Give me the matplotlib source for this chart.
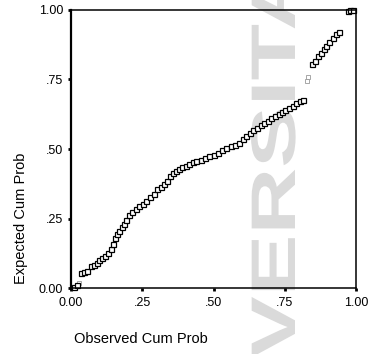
import matplotlib
matplotlib.use("Agg")
import matplotlib.pyplot as plt
from matplotlib.textpath import TextPath
from matplotlib.patches import PathPatch
from matplotlib.font_manager import FontProperties
from matplotlib.transforms import Affine2D, IdentityTransform

plt.rcParams['font.family'] = ['Liberation Sans', 'DejaVu Sans']

# observed vs expected cumulative probability
observed = [0.010, 0.020, 0.035, 0.045, 0.055, 0.070, 0.080, 0.090, 0.100, 0.110,
            0.120, 0.130, 0.140, 0.148, 0.155, 0.162, 0.170, 0.178, 0.186, 0.195,
            0.205, 0.215, 0.228, 0.240, 0.252, 0.265, 0.278, 0.290, 0.302, 0.315,
            0.327, 0.338, 0.348, 0.358, 0.368, 0.378, 0.390, 0.402, 0.415, 0.428,
            0.440, 0.455, 0.470, 0.485, 0.500, 0.515, 0.530, 0.545, 0.560, 0.575,
            0.590, 0.603, 0.615, 0.627, 0.640, 0.652, 0.665, 0.678, 0.690, 0.703,
            0.715, 0.728, 0.740, 0.752, 0.765, 0.778, 0.790, 0.802, 0.812, 0.846,
            0.856, 0.866, 0.876, 0.886, 0.896, 0.906, 0.918, 0.930, 0.940, 0.972,
            0.980, 0.990]
expected = [0.004, 0.012, 0.055, 0.058, 0.062, 0.078, 0.085, 0.092, 0.100, 0.108,
            0.115, 0.125, 0.142, 0.158, 0.180, 0.195, 0.207, 0.220, 0.232, 0.245,
            0.262, 0.272, 0.285, 0.294, 0.302, 0.315, 0.327, 0.340, 0.355, 0.365,
            0.375, 0.385, 0.402, 0.415, 0.420, 0.428, 0.435, 0.440, 0.446, 0.452,
            0.457, 0.462, 0.468, 0.474, 0.480, 0.487, 0.495, 0.503, 0.510, 0.515,
            0.521, 0.535, 0.548, 0.558, 0.568, 0.577, 0.585, 0.594, 0.602, 0.611,
            0.618, 0.625, 0.633, 0.641, 0.649, 0.656, 0.665, 0.672, 0.678, 0.805,
            0.818, 0.833, 0.845, 0.858, 0.872, 0.885, 0.900, 0.915, 0.922, 0.996,
            0.998, 1.000]
# points that came out faint in the scan
faint_obs = [0.028, 0.826, 0.832]
faint_exp = [0.020, 0.745, 0.760]

ticks = [0, 0.25, 0.5, 0.75, 1.0]
tick_labels = ["0.00", ".25", ".50", ".75", "1.00"]

fig = plt.figure(figsize=(3.71, 3.54), dpi=100)
ax = fig.add_axes([0.191, 0.186, 0.769, 0.786])
ax.patch.set_visible(False)

# light grey watermark behind everything
fp = FontProperties(family="Liberation Sans", weight="bold")
tp = TextPath((0, 0), "VERSITA", size=1, prop=fp)
wm = Affine2D().scale(92.5, 63).rotate_deg(90).translate(295, -4)
fig.patches.append(PathPatch(tp, transform=wm + IdentityTransform(), facecolor="#dadada",
                             edgecolor="none", zorder=-5, figure=fig))

ax.plot(faint_obs, faint_exp, linestyle="none", marker="s", markersize=3.3,
        markerfacecolor="white", markeredgecolor="#999999", markeredgewidth=0.6, clip_on=False)
ax.plot(observed, expected, linestyle="none", marker="s", markersize=3.6,
        markerfacecolor="white", markeredgecolor="black", markeredgewidth=0.9, clip_on=False)

ax.set_xlim(0, 1)
ax.set_ylim(0, 1)
ax.set_xticks(ticks)
ax.set_xticklabels(tick_labels)
ax.set_yticks(ticks)
ax.set_yticklabels(tick_labels)
ax.tick_params(direction="out", length=2.5, width=2, pad=3, labelsize=9, colors="black")
ax.tick_params(axis="x", pad=4)

for side in ["top", "right", "bottom"]:
    ax.spines[side].set_linewidth(1.1)
ax.spines["left"].set_linewidth(1.6)

fig.text(0.056, 0.384, "Expected Cum Prob", rotation=90, ha="center", va="center", fontsize=10.5)
fig.text(0.380, 0.042, "Observed Cum Prob", ha="center", va="center", fontsize=10.5)

fig.savefig("out.png", dpi=100)
